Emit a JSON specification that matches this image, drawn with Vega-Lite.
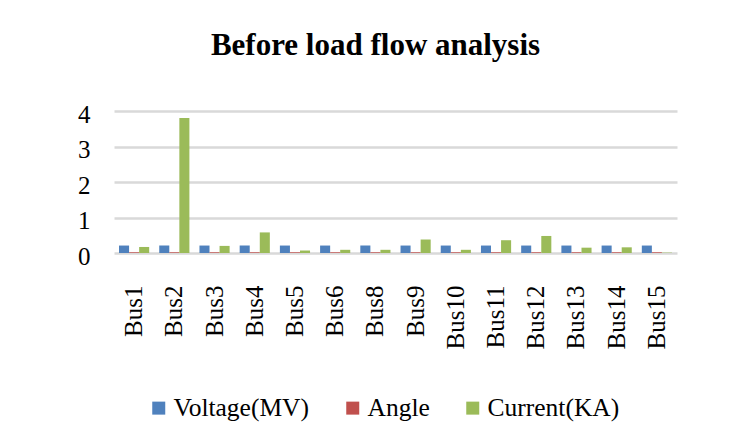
{
  "$schema": "https://vega.github.io/schema/vega-lite/v6.json",
  "width": 563,
  "height": 142,
  "autosize": {"type": "none"},
  "padding": {"left": 114, "top": 111, "right": 62, "bottom": 193},
  "background": "white",
  "title": {
    "text": "Before load flow analysis",
    "font": "Liberation Serif",
    "fontSize": 31,
    "fontWeight": "bold",
    "color": "#000000",
    "anchor": "middle",
    "dx": -20,
    "offset": 40
  },
  "data": {
    "values": [
      {"bus": "Bus1", "series": "Voltage(MV)", "value": 0.21},
      {"bus": "Bus1", "series": "Angle", "value": 0.02},
      {"bus": "Bus1", "series": "Current(KA)", "value": 0.17},
      {"bus": "Bus2", "series": "Voltage(MV)", "value": 0.21},
      {"bus": "Bus2", "series": "Angle", "value": 0.02},
      {"bus": "Bus2", "series": "Current(KA)", "value": 3.8},
      {"bus": "Bus3", "series": "Voltage(MV)", "value": 0.21},
      {"bus": "Bus3", "series": "Angle", "value": 0.02},
      {"bus": "Bus3", "series": "Current(KA)", "value": 0.2},
      {"bus": "Bus4", "series": "Voltage(MV)", "value": 0.21},
      {"bus": "Bus4", "series": "Angle", "value": 0.02},
      {"bus": "Bus4", "series": "Current(KA)", "value": 0.58},
      {"bus": "Bus5", "series": "Voltage(MV)", "value": 0.21},
      {"bus": "Bus5", "series": "Angle", "value": 0.02},
      {"bus": "Bus5", "series": "Current(KA)", "value": 0.07},
      {"bus": "Bus6", "series": "Voltage(MV)", "value": 0.21},
      {"bus": "Bus6", "series": "Angle", "value": 0.02},
      {"bus": "Bus6", "series": "Current(KA)", "value": 0.09},
      {"bus": "Bus8", "series": "Voltage(MV)", "value": 0.21},
      {"bus": "Bus8", "series": "Angle", "value": 0.02},
      {"bus": "Bus8", "series": "Current(KA)", "value": 0.09},
      {"bus": "Bus9", "series": "Voltage(MV)", "value": 0.21},
      {"bus": "Bus9", "series": "Angle", "value": 0.02},
      {"bus": "Bus9", "series": "Current(KA)", "value": 0.38},
      {"bus": "Bus10", "series": "Voltage(MV)", "value": 0.21},
      {"bus": "Bus10", "series": "Angle", "value": 0.02},
      {"bus": "Bus10", "series": "Current(KA)", "value": 0.09},
      {"bus": "Bus11", "series": "Voltage(MV)", "value": 0.21},
      {"bus": "Bus11", "series": "Angle", "value": 0.02},
      {"bus": "Bus11", "series": "Current(KA)", "value": 0.36},
      {"bus": "Bus12", "series": "Voltage(MV)", "value": 0.21},
      {"bus": "Bus12", "series": "Angle", "value": 0.02},
      {"bus": "Bus12", "series": "Current(KA)", "value": 0.48},
      {"bus": "Bus13", "series": "Voltage(MV)", "value": 0.21},
      {"bus": "Bus13", "series": "Angle", "value": 0.02},
      {"bus": "Bus13", "series": "Current(KA)", "value": 0.15},
      {"bus": "Bus14", "series": "Voltage(MV)", "value": 0.21},
      {"bus": "Bus14", "series": "Angle", "value": 0.02},
      {"bus": "Bus14", "series": "Current(KA)", "value": 0.16},
      {"bus": "Bus15", "series": "Voltage(MV)", "value": 0.21},
      {"bus": "Bus15", "series": "Angle", "value": 0.02},
      {"bus": "Bus15", "series": "Current(KA)", "value": 0.01}
    ]
  },
  "mark": {"type": "bar", "stroke": null},
  "encoding": {
    "x": {
      "field": "bus",
      "type": "nominal",
      "sort": null,
      "title": null,
      "scale": {"paddingInner": 0.25, "paddingOuter": 0.125},
      "axis": {
        "labelAngle": -90,
        "labelFont": "Liberation Serif",
        "labelFontSize": 25,
        "labelColor": "#000000",
        "labelPadding": 32,
        "domain": false,
        "ticks": false,
        "grid": false
      }
    },
    "xOffset": {
      "field": "series",
      "type": "nominal",
      "sort": ["Voltage(MV)", "Angle", "Current(KA)"]
    },
    "y": {
      "field": "value",
      "type": "quantitative",
      "title": null,
      "scale": {"domain": [0, 4], "nice": false},
      "axis": {
        "values": [0, 1, 2, 3, 4],
        "labelFont": "Liberation Serif",
        "labelFontSize": 25,
        "labelColor": "#000000",
        "labelPadding": 24,
        "labelOffset": 3,
        "domain": false,
        "ticks": false,
        "gridColor": "#d9d9d9",
        "gridWidth": 2.5
      }
    },
    "color": {
      "field": "series",
      "type": "nominal",
      "sort": ["Voltage(MV)", "Angle", "Current(KA)"],
      "scale": {
        "domain": ["Voltage(MV)", "Angle", "Current(KA)"],
        "range": ["#4f81bd", "#c0504d", "#9bbb59"]
      },
      "legend": {
        "title": null,
        "orient": "none",
        "direction": "horizontal",
        "legendX": 32,
        "legendY": 284,
        "symbolType": "square",
        "symbolSize": 169,
        "symbolStrokeWidth": 0,
        "labelFont": "Liberation Serif",
        "labelFontSize": 25.5,
        "labelColor": "#000000",
        "columnPadding": 30,
        "labelOffset": 2
      }
    }
  },
  "config": {
    "view": {"stroke": null}
  }
}
